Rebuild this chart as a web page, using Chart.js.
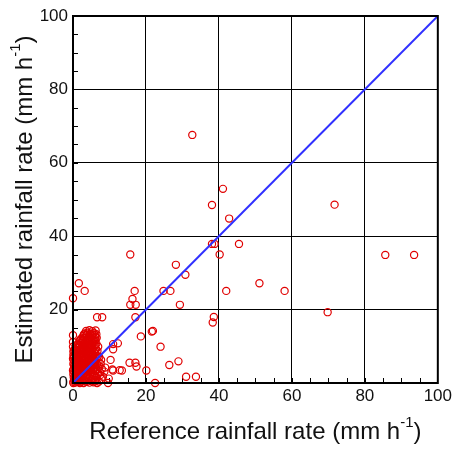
<!DOCTYPE html>
<html>
<head>
<meta charset="utf-8">
<script src="https://cdn.jsdelivr.net/npm/chart.js@4.4.1/dist/chart.umd.min.js"></script>
<style>
  html, body { margin: 0; padding: 0; background: #fff; }
  #wrap { width: 455px; height: 449px; }
</style>
</head>
<body>
<div id="wrap"><canvas id="rainChart" width="455" height="449"></canvas></div>
<script>
// scattered points (reference, estimated) in mm/h
const outlierRef = [32.7, 41.1, 38.1, 42.8, 71.7, 38.1, 38.8, 45.5, 40.2, 28.2, 30.8, 24.8, 26.7, 42.0, 51.1,
    58.0, 69.8, 85.6, 93.5, 29.3, 38.6, 38.3, 15.7, 1.6, 3.2, 0.0, 16.9, 16.3, 15.7, 17.2, 17.1, 6.6, 8.0,
    21.6, 21.9, 18.6, 24.0, 28.9, 26.4, 31.0, 33.7, 22.5, 20.1, 15.5, 17.1, 17.4, 13.4, 10.8, 12.3, 11.0,
    11.0, 9.8, 10.3, 7.2, 11.0, 12.8, 9.6, 6.6, 1.9];
const outlierEst = [67.6, 52.9, 48.5, 44.8, 48.6, 37.9, 37.9, 37.9, 35.0, 32.2, 29.5, 25.1, 25.1, 25.1, 27.2,
    25.1, 19.3, 34.9, 34.9, 21.3, 18.0, 16.5, 35.0, 27.2, 25.1, 23.1, 25.1, 22.9, 21.3, 21.3, 17.9, 17.9, 17.9,
    14.0, 14.2, 12.7, 9.9, 5.9, 4.9, 1.7, 1.7, 0.0, 3.4, 5.5, 5.5, 4.5, 3.4, 3.7, 10.8, 10.6,
    9.2, 1.2, 6.3, 7.0, 3.4, 3.5, 0.0, 0.0, 0.0];

// dense cluster near the origin, row by row
const clusterRef = [
    0.1, 0.6, 1.2, 2.0, 2.9, 3.8, 4.5, 5.6, 7.1,
    0.4, 1.0, 1.7, 2.5, 3.4, 4.8, 6.0,
    0.3, 0.9, 1.5, 2.4, 3.3, 4.1, 5.0, 6.2, 7.8,
    0.2, 0.8, 1.3, 1.9, 2.7, 3.6, 4.4, 5.3, 6.5, 8.2,
    0.5, 1.1, 1.8, 2.6, 3.5, 4.6, 5.9, 7.5,
    0.1, 0.7, 1.4, 2.2, 3.0, 3.9, 4.8, 5.7, 6.9,
    0.4, 1.0, 1.7, 2.5, 3.4, 4.2, 5.1, 6.0, 7.4, 8.6,
    0.0, 0.7, 1.3, 2.0, 2.9, 3.8, 4.6, 5.5, 6.4,
    0.2, 0.9, 1.6, 2.3, 3.1, 4.0, 4.9, 5.8, 6.7, 7.9,
    0.5, 1.2, 1.9, 2.8, 3.5, 4.4, 5.4, 6.3, 7.2, 8.8,
    0.3, 1.0, 1.6, 2.4, 3.2, 4.1, 5.0, 6.0,
    0.1, 0.8, 1.5, 2.2, 3.0, 3.8, 4.7, 5.5, 6.6, 7.6,
    0.4, 1.1, 1.8, 2.6, 3.4, 4.3, 5.2, 6.1, 7.0,
    0.2, 0.9, 1.6, 2.4, 3.2, 4.0, 4.9, 5.8,
    0.0, 0.7, 1.4, 2.1, 2.9, 3.7, 4.6, 5.5, 6.5, 7.7,
    0.3, 1.0, 1.8, 2.5, 3.3, 4.1, 5.0, 5.9, 6.8,
    0.1, 0.8, 1.5, 2.2, 3.0, 3.9, 4.7, 5.6,
    0.6, 1.3, 2.0, 2.8, 3.6, 4.4, 5.3, 6.2,
    0.1, 0.9, 1.6, 2.4, 3.2, 4.0, 4.8, 5.7, 6.7,
    0.3, 1.1, 1.9, 2.7, 3.5, 4.3, 5.1, 6.0,
    0.5, 1.3, 2.1, 2.9, 3.7, 4.5, 5.4, 6.3,
    0.9, 1.7, 2.5, 3.3, 4.1, 5.0, 5.9, 6.9,
    1.1, 1.9, 2.7, 3.5, 4.4, 5.2, 6.1,
    1.4, 2.2, 3.0, 3.8, 4.6, 5.5, 6.4,
    1.8, 2.6, 3.4, 4.2, 5.1, 6.0,
    2.0, 2.9, 3.7, 4.5, 5.3, 6.2,
    2.3, 3.1, 3.9, 4.7, 5.6, 6.5,
    2.8, 3.6, 4.4, 5.2, 6.1,
    3.0, 3.8, 4.6, 5.4, 6.0,
    3.2, 4.0, 4.8, 5.7, 6.4,
    3.6, 4.5, 5.3, 6.2,
    0.0, 0.0, 0.0, 0.1
];
const clusterEst = [
    0.3, 0.1, 0.4, 0.2, 0.0, 0.3, 0.1, 0.2, 0.4,
    0.6, 0.5, 0.7, 0.6, 0.4, 0.6, 0.5,
    0.9, 1.1, 0.8, 1.0, 0.7, 1.2, 0.9, 0.8, 1.1,
    1.6, 1.8, 1.5, 1.7, 1.9, 1.4, 1.6, 1.8, 1.5, 1.7,
    2.0, 1.9, 2.1, 2.0, 1.8, 2.1, 2.0, 2.2,
    2.4, 2.2, 2.5, 2.3, 2.6, 2.2, 2.4, 2.1, 2.5,
    3.0, 3.2, 2.9, 3.1, 2.8, 3.3, 3.0, 3.2, 2.9, 3.1,
    3.4, 3.5, 3.3, 3.5, 3.6, 3.4, 3.3, 3.5, 3.4,
    3.8, 3.6, 3.9, 3.7, 3.5, 3.8, 3.6, 3.9, 3.7, 3.8,
    4.4, 4.6, 4.3, 4.5, 4.2, 4.6, 4.4, 4.3, 4.5, 4.2,
    4.8, 4.9, 4.7, 4.8, 4.9, 4.7, 4.8, 4.9,
    5.2, 5.0, 5.3, 5.1, 4.9, 5.2, 5.0, 5.3, 5.1, 5.2,
    5.8, 6.0, 5.7, 5.9, 5.6, 6.0, 5.8, 5.7, 5.9,
    6.2, 6.1, 6.3, 6.2, 6.0, 6.2, 6.1, 6.3,
    6.6, 6.4, 6.7, 6.5, 6.3, 6.6, 6.4, 6.7, 6.5, 6.3,
    7.2, 7.4, 7.1, 7.3, 7.0, 7.4, 7.2, 7.1, 7.3,
    7.6, 7.5, 7.7, 7.6, 7.4, 7.6, 7.5, 7.7,
    7.9, 8.1, 7.8, 8.0, 7.7, 8.1, 7.9, 7.8,
    8.6, 8.8, 8.5, 8.7, 8.4, 8.8, 8.6, 8.5, 8.7,
    9.0, 8.9, 9.1, 9.0, 8.9, 9.1, 9.0, 8.9,
    9.3, 9.5, 9.2, 9.4, 9.1, 9.5, 9.3, 9.2,
    10.0, 10.2, 9.9, 10.1, 9.8, 10.2, 10.0, 9.9,
    10.4, 10.3, 10.5, 10.4, 10.3, 10.5, 10.4,
    10.7, 10.9, 10.6, 10.8, 10.5, 10.9, 10.7,
    11.4, 11.6, 11.3, 11.5, 11.2, 11.6,
    11.8, 11.7, 11.9, 11.8, 11.7, 11.9,
    12.1, 12.3, 12.0, 12.2, 11.9, 12.3,
    12.8, 13.0, 12.7, 12.9, 12.6,
    13.2, 13.1, 13.3, 13.2, 13.1,
    13.5, 13.7, 13.4, 13.6, 13.3,
    14.2, 14.4, 14.1, 14.3,
    13.0, 11.2, 9.9, 0.0
];

// 1:1 line
const lineRef = [0, 100];
const lineEst = [0, 100];

const axisMin = 0;
const axisMax = 100;
const majorStep = 20;
const minorStep = 5;

const FONT = "Arial, 'Liberation Sans', sans-serif";

const scatterPoints = outlierRef.map((v, i) => ({ x: v, y: outlierEst[i] }))
    .concat(clusterRef.map((v, i) => ({ x: v, y: clusterEst[i] })));

// draws minor ticks, the frame and the axis titles (with superscript)
const framePlugin = {
    id: 'framePlugin',
    beforeDatasetsDraw(chart) {
        const { ctx, chartArea: a, scales: { x, y } } = chart;
        ctx.save();
        ctx.strokeStyle = '#000';
        ctx.lineWidth = 1;
        ctx.beginPath();
        for (let v = axisMin + minorStep; v < axisMax; v += minorStep) {
            const px = Math.round(x.getPixelForValue(v)) + 0.5;
            ctx.moveTo(px, a.bottom);
            ctx.lineTo(px, a.bottom - 5);
            const py = Math.round(y.getPixelForValue(v)) + 0.5;
            ctx.moveTo(a.left, py);
            ctx.lineTo(a.left + 5, py);
        }
        ctx.stroke();
        ctx.restore();
    },
    afterDatasetsDraw(chart) {
        const { ctx, chartArea: a } = chart;
        ctx.save();
        ctx.strokeStyle = '#000';
        ctx.lineWidth = 2;
        ctx.strokeRect(a.left, a.top, a.right - a.left, a.bottom - a.top);
        ctx.restore();

        drawTitle(ctx, 'Reference rainfall rate (mm h', (a.left + a.right) / 2, 432, 0);
        drawTitle(ctx, 'Estimated rainfall rate (mm h', 25, (a.top + a.bottom) / 2, -Math.PI / 2);
    }
};

function drawTitle(ctx, main, cx, cy, angle) {
    const size = 24;
    const supSize = 15;
    ctx.save();
    ctx.translate(cx, cy);
    ctx.rotate(angle);
    ctx.fillStyle = '#111';
    ctx.textBaseline = 'middle';
    ctx.textAlign = 'left';
    ctx.font = size + 'px ' + FONT;
    const w1 = ctx.measureText(main).width;
    const w3 = ctx.measureText(')').width;
    ctx.font = supSize + 'px ' + FONT;
    const w2 = ctx.measureText('-1').width;
    let xPos = -(w1 + w2 + w3) / 2;
    ctx.font = size + 'px ' + FONT;
    ctx.fillText(main, xPos, 0);
    xPos += w1;
    ctx.font = supSize + 'px ' + FONT;
    ctx.fillText('-1', xPos, -9);
    xPos += w2;
    ctx.font = size + 'px ' + FONT;
    ctx.fillText(')', xPos, 0);
    ctx.restore();
}

const ctx = document.getElementById('rainChart').getContext('2d');
const rainChart = new Chart(ctx, {
    type: 'scatter',
    data: {
        datasets: [
            {
                label: '1:1',
                type: 'line',
                data: lineRef.map((v, i) => ({ x: v, y: lineEst[i] })),
                borderColor: '#3030ff',
                borderWidth: 2,
                pointRadius: 0,
                fill: false,
                order: 0
            },
            {
                label: 'Rainfall rate',
                data: scatterPoints,
                pointRadius: 3.6,
                pointBorderWidth: 1.2,
                borderColor: '#e00000',
                backgroundColor: 'rgba(0,0,0,0)',
                clip: false,
                order: 1
            }
        ]
    },
    options: {
        responsive: false,
        devicePixelRatio: 1,
        animation: false,
        layout: {
            padding: { top: 16, right: 15, left: 0, bottom: 0 }
        },
        scales: {
            x: {
                type: 'linear',
                min: axisMin,
                max: axisMax,
                afterFit: scale => { scale.height = 66; },
                ticks: {
                    stepSize: majorStep,
                    color: '#111',
                    padding: 3,
                    maxRotation: 0,
                    font: { size: 17, family: FONT }
                },
                grid: {
                    color: '#000',
                    lineWidth: 1,
                    drawTicks: false
                },
                border: { display: false }
            },
            y: {
                type: 'linear',
                min: axisMin,
                max: axisMax,
                afterFit: scale => { scale.width = 73; },
                ticks: {
                    stepSize: majorStep,
                    color: '#111',
                    padding: 5,
                    font: { size: 17, family: FONT }
                },
                grid: {
                    color: '#000',
                    lineWidth: 1,
                    drawTicks: false
                },
                border: { display: false }
            }
        },
        plugins: {
            legend: { display: false },
            tooltip: { enabled: false }
        }
    },
    plugins: [framePlugin]
});
</script>
</body>
</html>
